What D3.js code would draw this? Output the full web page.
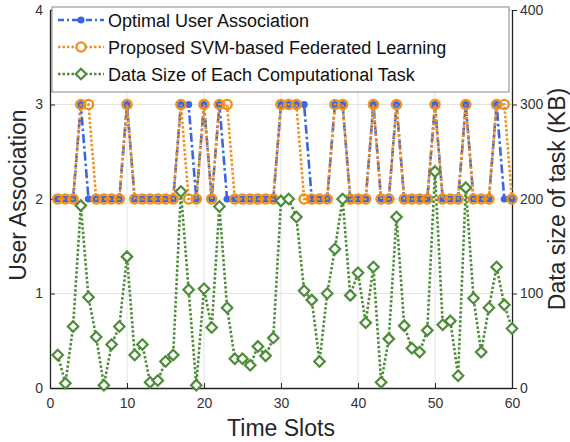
<!DOCTYPE html>
<html>
<head>
<meta charset="utf-8">
<script src="https://cdn.jsdelivr.net/npm/d3@7"></script>
<style>
  body { margin: 0; background: #fff; }
  text { font-family: "Liberation Sans", Arial, sans-serif; }
</style>
</head>
<body>
<svg width="570" height="442"></svg>
<script>
// data
var slots = d3.range(1, 61);
var optimalAssoc = [2,2,2,3,2,2,2,2,2,3, 2,2,2,2,2,2,3,3,2,3, 2,3,2,2,2,2,2,2,2,3,
                    3,3,3,2,2,2,3,3,2,2, 2,3,2,2,3,2,2,2,2,3, 2,2,2,3,2,2,2,3,2,2];
var proposedAssoc = [2,2,2,3,3,2,2,2,2,3, 2,2,2,2,2,2,3,2,2,3, 2,3,3,2,2,2,2,2,2,3,
                     3,3,2,2,2,2,3,3,2,2, 2,3,2,2,3,2,2,2,2,3, 2,2,2,3,2,2,2,3,3,2];
var dataSize = [35,5,65,193,96,54,3,46,65,139, 35,46,6,8,28,35,208,104,3,105,
                64,192,85,31,31,24,44,34,53,198, 200,181,103,93,28,100,147,200,98,122,
                69,128,6,52,181,66,42,38,61,229, 67,71,13,212,95,38,85,128,88,63];
var xTicks = [0,10,20,30,40,50,60];
var yLeftTicks = [0,1,2,3,4];
var yRightTicks = [0,100,200,300,400];
var legendNames = ["Optimal User Association", "Proposed SVM-based Federated Learning", "Data Size of Each Computational Task"];

var svg = d3.select("svg");
var mLeft = 50, mRight = 512, mTop = 10, mBottom = 388;

var x = d3.scaleLinear().domain([0, 60]).range([mLeft, mRight]);
var yL = d3.scaleLinear().domain([0, 4]).range([mBottom, mTop]);
var yR = d3.scaleLinear().domain([0, 400]).range([mBottom, mTop]);

var blue = "#3b66e0", orange = "#f0901c", green = "#4d8c38";

//grid
svg.append("g").selectAll("line")
  .data(xTicks.slice(1, -1)).enter().append("line")
  .attr("x1", d => x(d)).attr("x2", d => x(d))
  .attr("y1", mTop).attr("y2", mBottom)
  .attr("stroke", "#e3e3e3").attr("stroke-width", 1);
svg.append("g").selectAll("line")
  .data(yLeftTicks.slice(1, -1)).enter().append("line")
  .attr("x1", mLeft).attr("x2", mRight)
  .attr("y1", d => yL(d)).attr("y2", d => yL(d))
  .attr("stroke", "#e3e3e3").attr("stroke-width", 1);
svg.append("line").attr("x1", mLeft).attr("x2", mRight).attr("y1", mTop).attr("y2", mTop)
  .attr("stroke", "#cfcfcf");

//axes
var xAxis = svg.append("g").attr("transform", "translate(0," + mBottom + ")")
  .call(d3.axisBottom(x).tickValues(xTicks).tickSizeInner(-5).tickSizeOuter(0).tickPadding(10));
var lAxis = svg.append("g").attr("transform", "translate(" + mLeft + ",0)")
  .call(d3.axisLeft(yL).tickValues(yLeftTicks).tickFormat(d3.format("d")).tickSizeInner(-5).tickSizeOuter(0).tickPadding(7));
var rAxis = svg.append("g").attr("transform", "translate(" + mRight + ",0)")
  .call(d3.axisRight(yR).tickValues(yRightTicks).tickSizeInner(5).tickSizeOuter(0).tickPadding(3));

[xAxis, lAxis, rAxis].forEach(function(a) {
  a.select(".domain").attr("stroke", "#222").attr("stroke-width", 1.3);
  a.selectAll(".tick line").attr("stroke", "#222");
  a.selectAll(".tick text").attr("fill", "#333").style("font-size", "14px");
});

//lines
function drawSeries(vals, scale, color, dash) {
  var line = d3.line().x((d, i) => x(slots[i])).y(d => scale(d));
  svg.append("path").datum(vals)
    .attr("d", line)
    .attr("fill", "none")
    .attr("stroke", color)
    .attr("stroke-width", 2.6)
    .attr("stroke-dasharray", dash);
}

drawSeries(optimalAssoc, yL, blue, "9,3,2.5,3");
svg.append("g").selectAll("circle")
  .data(optimalAssoc).enter().append("circle")
  .attr("cx", (d, i) => x(slots[i])).attr("cy", d => yL(d))
  .attr("r", 3.6).attr("fill", blue);

drawSeries(proposedAssoc, yL, orange, "2.5,2");
svg.append("g").selectAll("circle")
  .data(proposedAssoc).enter().append("circle")
  .attr("cx", (d, i) => x(slots[i])).attr("cy", d => yL(d))
  .attr("r", 4.6).attr("fill", "none")
  .attr("stroke", orange).attr("stroke-width", 2.4);

drawSeries(dataSize, yR, green, "2.5,2");
var diamond = d3.symbol().type(d3.symbolDiamond2).size(70);
svg.append("g").selectAll("path")
  .data(dataSize).enter().append("path")
  .attr("d", diamond)
  .attr("transform", (d, i) => "translate(" + x(slots[i]) + "," + yR(d) + ")")
  .attr("fill", "#fff").attr("stroke", green).attr("stroke-width", 2.2);

//legend
var lg = svg.append("g");
lg.append("rect").attr("x", 52).attr("y", 7).attr("width", 457).attr("height", 85)
  .attr("fill", "#fff").attr("stroke", "#666").attr("stroke-width", 0.8);
var entries = [
  {name: legendNames[0], color: blue, dash: "6,3,2,3", mark: "dot"},
  {name: legendNames[1], color: orange, dash: "2.5,2", mark: "circ"},
  {name: legendNames[2], color: green, dash: "2.5,2", mark: "dia"}
];
entries.forEach(function(e, i) {
  var cy = 20 + i * 27;
  lg.append("line").attr("x1", 58).attr("x2", 104).attr("y1", cy).attr("y2", cy)
    .attr("stroke", e.color).attr("stroke-width", 2.4).attr("stroke-dasharray", e.dash);
  if (e.mark == "dot") {
    lg.append("circle").attr("cx", 81).attr("cy", cy).attr("r", 3.6).attr("fill", e.color);
  } else if (e.mark == "circ") {
    lg.append("circle").attr("cx", 81).attr("cy", cy).attr("r", 4.6).attr("fill", "#fff")
      .attr("stroke", e.color).attr("stroke-width", 2.4);
  } else {
    lg.append("path").attr("d", diamond).attr("transform", "translate(81," + cy + ")")
      .attr("fill", "#fff").attr("stroke", e.color).attr("stroke-width", 2.2);
  }
  lg.append("text").attr("x", 108).attr("y", cy + 6.5)
    .style("font-size", "18px").attr("fill", "#111").text(e.name);
});

//axis titles
svg.append("text").attr("x", (mLeft + mRight) / 2).attr("y", 436)
  .attr("text-anchor", "middle").style("font-size", "23px").attr("fill", "#262626")
  .text("Time Slots");
svg.append("text").attr("transform", "translate(26,195) rotate(-90)")
  .attr("text-anchor", "middle").style("font-size", "23px").attr("fill", "#262626")
  .text("User Association");
svg.append("text").attr("transform", "translate(565,199) rotate(-90)")
  .attr("text-anchor", "middle").style("font-size", "23px").attr("fill", "#262626")
  .text("Data size of task (KB)");
</script>
</body>
</html>
